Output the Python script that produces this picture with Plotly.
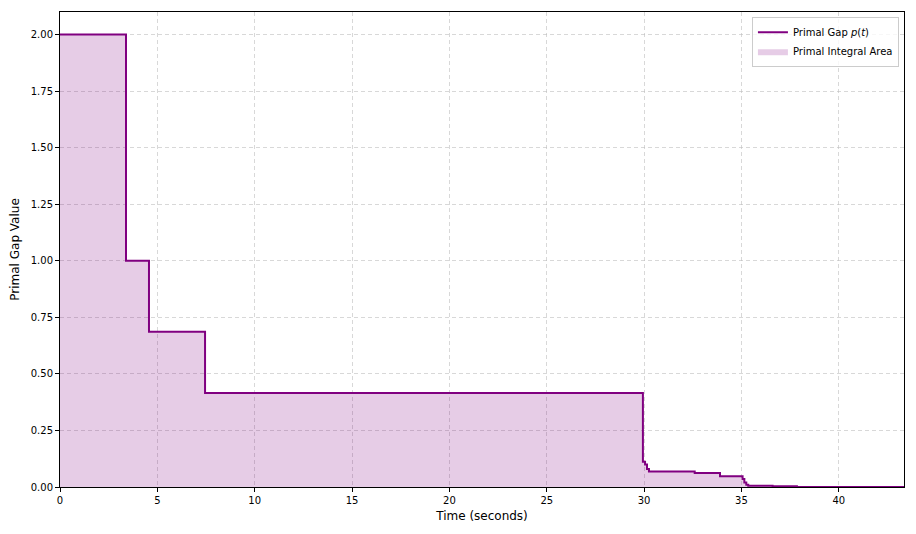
import plotly.graph_objects as go

# Step times (seconds) and primal gap values (step-post)
times = [0.0, 3.39, 4.57, 7.45, 29.94, 30.05, 30.15, 30.25, 32.6, 33.9, 35.06, 35.15, 35.25, 35.35, 36.6, 37.85, 43.35]
gaps = [2.0, 1.0, 0.686, 0.416, 0.112, 0.10, 0.08, 0.068, 0.062, 0.048, 0.035, 0.02, 0.01, 0.006, 0.003, 0.0, 0.0]

x_ticks = [0, 5, 10, 15, 20, 25, 30, 35, 40]
y_ticks = [0.0, 0.25, 0.5, 0.75, 1.0, 1.25, 1.5, 1.75, 2.0]

fig = go.Figure()
fig.add_trace(go.Scatter(
    x=times, y=gaps, mode="lines", line=dict(shape="hv", width=0),
    fill="tozeroy", fillcolor="rgba(128,0,128,0.2)",
    name="Primal Integral Area", showlegend=True, legendrank=2,
))
fig.add_trace(go.Scatter(
    x=times, y=gaps, mode="lines", line=dict(shape="hv", color="#800080", width=2),
    name="Primal Gap <i>p</i>(<i>t</i>)", legendrank=1,
))

axis_common = dict(
    showline=True, linecolor="black", linewidth=1, mirror=True,
    ticks="outside", ticklen=4, tickcolor="black",
    showgrid=True, gridcolor="rgba(190,190,190,0.6)", griddash="4px,3px", gridwidth=1,
    zeroline=False, tickfont=dict(size=10, color="black"),
)
fig.update_xaxes(range=[0, 43.35], tickvals=x_ticks, title=dict(text="Time (seconds)", font=dict(size=12, color="black"), standoff=6), **axis_common)
fig.update_yaxes(range=[0, 2.1], tickvals=y_ticks, tickformat=".2f", title=dict(text="Primal Gap Value", font=dict(size=12, color="black"), standoff=10), **axis_common)

fig.update_layout(
    width=908, height=526,
    margin=dict(l=52, r=12, t=4, b=47),
    plot_bgcolor="white", paper_bgcolor="white",
    font=dict(family="DejaVu Sans", color="black"),
    legend=dict(x=0.994, y=0.99, xanchor="right", yanchor="top",
                bgcolor="rgba(255,255,255,0.8)", bordercolor="#cccccc", borderwidth=1,
                font=dict(size=10), tracegroupgap=0),
)
fig.write_html("out.html")
